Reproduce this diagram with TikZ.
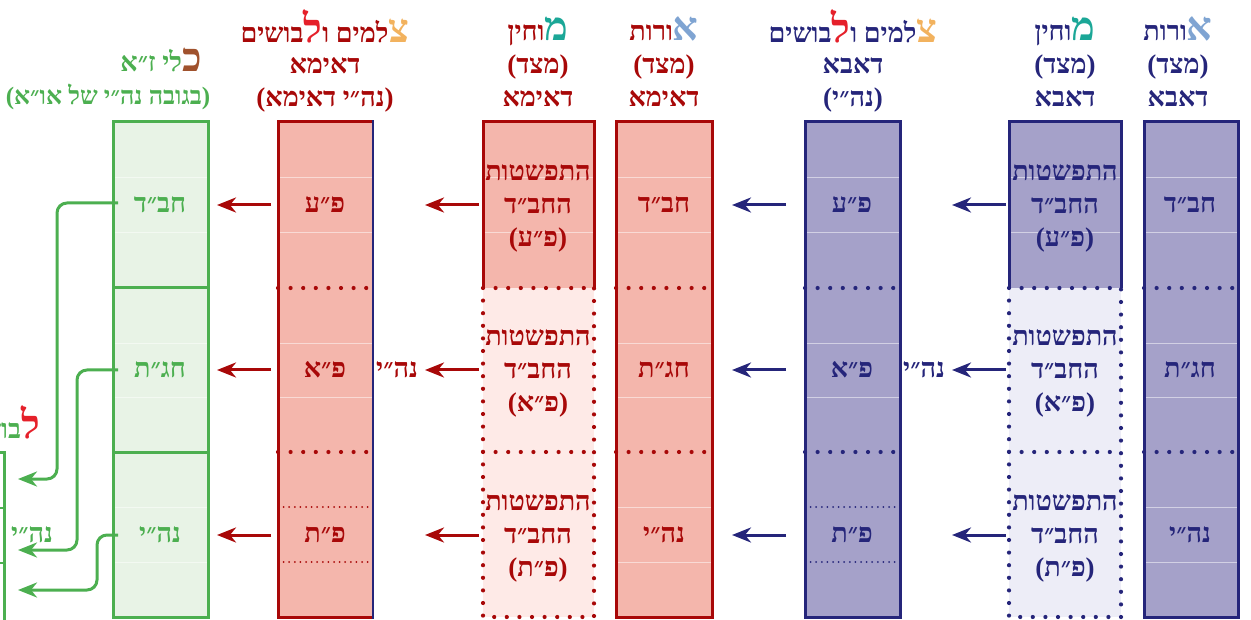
\documentclass[tikz,border=0pt]{standalone}
\usepackage{fontspec}
\usepackage{xcolor}
\usepackage{tikz}
\usetikzlibrary{arrows.meta}
\newfontfamily\hebfont[Script=Hebrew]{Liberation Serif}
\TeXXeTstate=1
\newcommand{\rl}[1]{\beginR #1\endR}
\newcommand{\initial}[2]{\beginL{\color{#1}\fontsize{40}{40}\selectfont #2}\endL}
\definecolor{abablue}{HTML}{25257A}
\definecolor{abafill}{HTML}{A5A1C9}
\definecolor{abalight}{HTML}{EDEDF7}
\definecolor{imared}{HTML}{A80808}
\definecolor{imafill}{HTML}{F4B6AC}
\definecolor{imalight}{HTML}{FEEAE7}
\definecolor{zagreen}{HTML}{4CAF50}
\definecolor{zafill}{HTML}{E8F3E6}
\definecolor{ohrletter}{HTML}{7FA4D2}
\definecolor{mochletter}{HTML}{1BA797}
\definecolor{tzletter}{HTML}{F2B25E}
\definecolor{lvletter}{HTML}{E5202A}
\definecolor{kliletter}{HTML}{A0522D}

\begin{document}
\begin{tikzpicture}[x=1pt,y=-1pt,
		heb/.style={font=\hebfont\bfseries\fontsize{27}{33}\selectfont, inner sep=0pt},
		hd/.style={heb, anchor=base},
		frame/.style={line width=3pt},
		bigdots/.style={line width=4.2pt, line cap=round, dash pattern=on 0pt off 12.6pt},
		smalldots/.style={line width=2pt, line cap=round, dash pattern=on 0pt off 5.6pt},
		faint/.style={white, opacity=0.5, line width=0.6pt},
		arr/.style={line width=3pt, -{Stealth[length=19pt,width=15pt,inset=6pt]}}]
	\useasboundingbox (0,0) rectangle (1251,620);
	\clip (0,0) rectangle (1251,620);

	\fill[abafill] (1144,122) rectangle (1238,617);
	\foreach \y in {177,232,343,397,507,562} \draw[faint] (1144,\y) -- (1238,\y);
	\draw[abablue,bigdots] (1144,288) -- (1238,288) (1144,452) -- (1238,452);
	\draw[abablue,frame] (1144,122) rectangle (1238,617);

	\fill[abafill] (1009,122) rectangle (1121,288);
	\fill[abalight] (1009,288) rectangle (1121,617);
	\foreach \y in {177,232} \draw[faint] (1009,\y) -- (1121,\y);
	\draw[abablue,frame] (1009,288) -- (1009,122) -- (1121,122) -- (1121,288);
	\draw[abablue,bigdots] (1009,288) -- (1121,288) (1009,452) -- (1121,452)
		(1009,288) -- (1009,617) -- (1121,617) -- (1121,288);

	\fill[abafill] (805,122) rectangle (900,617);
	\foreach \y in {177,232,343,397} \draw[faint] (805,\y) -- (900,\y);
	\draw[abablue,bigdots] (805,288) -- (900,288) (805,452) -- (900,452);
	\draw[abablue,smalldots] (805,507) -- (900,507) (805,562) -- (900,562);
	\draw[abablue,frame] (805,122) rectangle (900,617);

	\fill[imafill] (616,122) rectangle (712,617);
	\foreach \y in {177,232,343,397,507,562} \draw[faint] (616,\y) -- (712,\y);
	\draw[imared,bigdots] (616,288) -- (712,288) (616,452) -- (712,452);
	\draw[imared,frame] (616,122) rectangle (712,617);

	\fill[imafill] (483,122) rectangle (594,288);
	\fill[imalight] (483,288) rectangle (594,617);
	\foreach \y in {177,232} \draw[faint] (483,\y) -- (594,\y);
	\draw[imared,frame] (483,288) -- (483,122) -- (594,122) -- (594,288);
	\draw[imared,bigdots] (483,288) -- (594,288) (483,452) -- (594,452)
		(483,288) -- (483,617) -- (594,617) -- (594,288);

	\fill[imafill] (278,122) rectangle (373,617);
	\foreach \y in {177,232,343,397} \draw[faint] (278,\y) -- (373,\y);
	\draw[imared,bigdots] (278,288) -- (373,288) (278,452) -- (373,452);
	\draw[imared,smalldots] (278,507) -- (373,507) (278,562) -- (373,562);
	\draw[imared,frame] (373,122) -- (278,122) -- (278,617) -- (373,617);
	\draw[abablue,line width=2.4pt] (373,120.5) -- (373,618.5);

	\fill[zafill] (113,122) rectangle (208,617);
	\foreach \y in {177,232,343,397,507,562} \draw[faint] (113,\y) -- (208,\y);
	\draw[zagreen,frame] (113,288) -- (208,288) (113,452) -- (208,452);
	\draw[zagreen,frame] (113,122) rectangle (208,617);

	\draw[zagreen,frame] (-20,452) -- (4,452) -- (4,625);
	\draw[zagreen,line width=2pt] (-20,508) -- (4,508) (-20,563) -- (4,563);

	\node[hd,abablue] (ohr-aba-h1) at (1178,41) {\rl{\initial{ohrletter}{א}ורות}};
	\node[hd,abablue] (ohr-aba-h2) at (1178,74) {\rl{(מצד)}};
	\node[hd,abablue] (ohr-aba-h3) at (1178,107) {\rl{דאבא}};
	\node[hd,abablue] (mochin-aba-h1) at (1065,41) {\rl{\initial{mochletter}{מ}וחין}};
	\node[hd,abablue] (mochin-aba-h2) at (1065,74) {\rl{(מצד)}};
	\node[hd,abablue] (mochin-aba-h3) at (1065,107) {\rl{דאבא}};
	\node[hd,abablue] (tzelem-aba-h1) at (853,43) {\rl{\initial{tzletter}{צ}למים ו\initial{lvletter}{ל}בושים}};
	\node[hd,abablue] (tzelem-aba-h2) at (853,74) {\rl{דאבא}};
	\node[hd,abablue] (tzelem-aba-h3) at (853,107) {\rl{(נה״י)}};
	\node[hd,imared] (ohr-ima-h1) at (664,41) {\rl{\initial{ohrletter}{א}ורות}};
	\node[hd,imared] (ohr-ima-h2) at (664,74) {\rl{(מצד)}};
	\node[hd,imared] (ohr-ima-h3) at (664,107) {\rl{דאימא}};
	\node[hd,imared] (mochin-ima-h1) at (538,41) {\rl{\initial{mochletter}{מ}וחין}};
	\node[hd,imared] (mochin-ima-h2) at (538,74) {\rl{(מצד)}};
	\node[hd,imared] (mochin-ima-h3) at (538,107) {\rl{דאימא}};
	\node[hd,imared] (tzelem-ima-h1) at (325,43) {\rl{\initial{tzletter}{צ}למים ו\initial{lvletter}{ל}בושים}};
	\node[hd,imared] (tzelem-ima-h2) at (325,74) {\rl{דאימא}};
	\node[hd,imared] (tzelem-ima-h3) at (325,107) {\rl{(נה״י דאימא)}};
	\node[hd,zagreen] (kli-h1) at (161,72) {\rl{\initial{kliletter}{כ}לי ז״א}};
	\node[hd,zagreen,font=\hebfont\bfseries\fontsize{25}{30}\selectfont] (kli-h2) at (108,105) {\rl{(בגובה נה״י של או״א)}};
	\node[hd,zagreen,anchor=base east] (levush-h) at (40,438) {\rl{\initial{lvletter}{ל}בושים}};

	\node[heb,abablue] (ohr-aba-1) at (1190,205) {\rl{חב״ד}};
	\node[heb,abablue] (ohr-aba-2) at (1190,370) {\rl{חג״ת}};
	\node[heb,abablue] (ohr-aba-3) at (1190,535) {\rl{נה״י}};
	\node[heb,abablue,align=center] (mochin-aba-1) at (1065,208) {\rl{התפשטות}\\\rl{החב״ד}\\\rl{(פ״ע)}};
	\node[heb,abablue,align=center] (mochin-aba-2) at (1065,373) {\rl{התפשטות}\\\rl{החב״ד}\\\rl{(פ״א)}};
	\node[heb,abablue,align=center] (mochin-aba-3) at (1065,538) {\rl{התפשטות}\\\rl{החב״ד}\\\rl{(פ״ת)}};
	\node[heb,abablue] (tzelem-aba-1) at (852,205) {\rl{פ״ע}};
	\node[heb,abablue] (tzelem-aba-2) at (852,370) {\rl{פ״א}};
	\node[heb,abablue] (tzelem-aba-3) at (852,535) {\rl{פ״ת}};
	\node[heb,imared] (ohr-ima-1) at (664,205) {\rl{חב״ד}};
	\node[heb,imared] (ohr-ima-2) at (664,370) {\rl{חג״ת}};
	\node[heb,imared] (ohr-ima-3) at (664,535) {\rl{נה״י}};
	\node[heb,imared,align=center] (mochin-ima-1) at (538,208) {\rl{התפשטות}\\\rl{החב״ד}\\\rl{(פ״ע)}};
	\node[heb,imared,align=center] (mochin-ima-2) at (538,373) {\rl{התפשטות}\\\rl{החב״ד}\\\rl{(פ״א)}};
	\node[heb,imared,align=center] (mochin-ima-3) at (538,538) {\rl{התפשטות}\\\rl{החב״ד}\\\rl{(פ״ת)}};
	\node[heb,imared] (tzelem-ima-1) at (325,205) {\rl{פ״ע}};
	\node[heb,imared] (tzelem-ima-2) at (325,370) {\rl{פ״א}};
	\node[heb,imared] (tzelem-ima-3) at (325,535) {\rl{פ״ת}};
	\node[heb,zagreen] (kli-1) at (160,205) {\rl{חב״ד}};
	\node[heb,zagreen] (kli-2) at (160,370) {\rl{חג״ת}};
	\node[heb,zagreen] (kli-3) at (160,535) {\rl{נה״י}};
	\node[heb,abablue] (nhy-aba) at (924,370) {\rl{נה״י}};
	\node[heb,imared] (nhy-ima) at (397,370) {\rl{נה״י}};
	\node[heb,zagreen] (nhy-kli) at (32,535) {\rl{נה״י}};

	\foreach \y/\n in {205/1,370/2,535/3} {
		\coordinate (ma\n) at (1006,\y); \coordinate (ta\n) at (952,\y);
		\coordinate (tb\n) at (786,\y); \coordinate (oi\n) at (732,\y);
		\coordinate (mi\n) at (479,\y); \coordinate (ti\n) at (425,\y);
		\coordinate (tc\n) at (271,\y); \coordinate (kl\n) at (217,\y);
		\draw[abablue,arr] (ma\n) -- (ta\n);
		\draw[abablue,arr] (tb\n) -- (oi\n);
		\draw[imared,arr] (mi\n) -- (ti\n);
		\draw[imared,arr] (tc\n) -- (kl\n);
	}

	\coordinate (za1) at (118,203); \coordinate (lv1) at (18,479);
	\coordinate (za2) at (118,370); \coordinate (lv2) at (18,550);
	\coordinate (za3) at (118,535); \coordinate (lv3) at (18,590);
	\draw[zagreen,arr,rounded corners=10pt] (za1) -| (57,479) -- (lv1);
	\draw[zagreen,arr,rounded corners=10pt] (za2) -| (77,550) -- (lv2);
	\draw[zagreen,arr,rounded corners=10pt] (za3) -| (97,590) -- (lv3);
\end{tikzpicture}
\end{document}
